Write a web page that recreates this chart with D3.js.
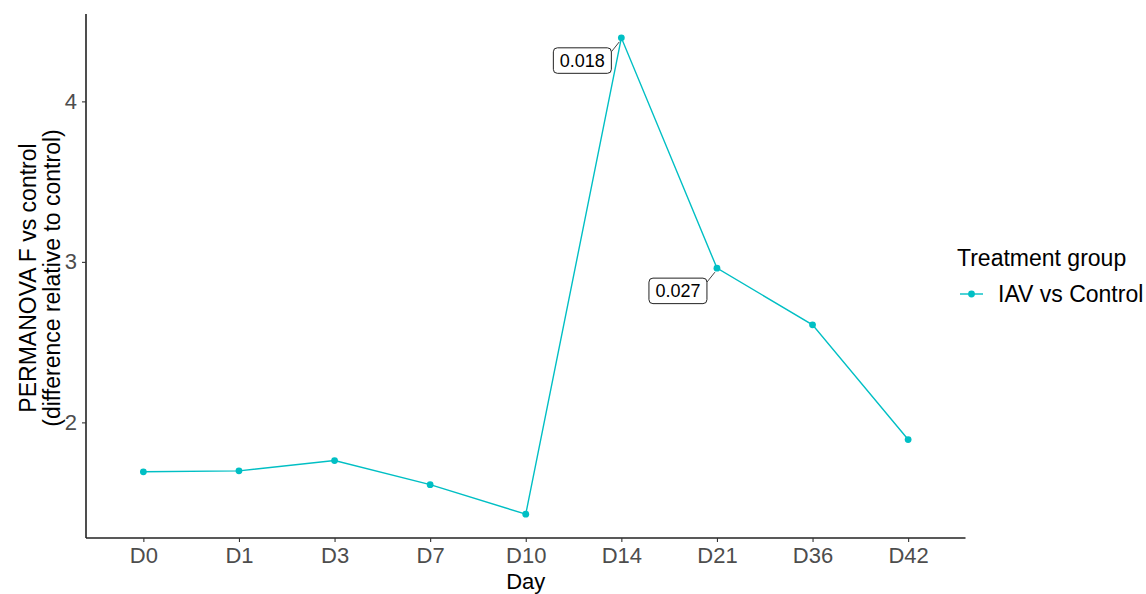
<!DOCTYPE html>
<html>
<head>
<meta charset="utf-8">
<script src="https://cdn.jsdelivr.net/npm/d3@7"></script>
<style>
  html, body { margin: 0; padding: 0; background: #ffffff; }
  svg { display: block; font-family: "Liberation Sans", Arial, Helvetica, sans-serif; }
</style>
</head>
<body>
<svg id="chart" width="1146" height="594"></svg>
<script>
const days = ["D0", "D1", "D3", "D7", "D10", "D14", "D21", "D36", "D42"];
const fValues = [1.692, 1.698, 1.762, 1.612, 1.428, 4.396, 2.961, 2.608, 1.893];
const pLabels = ["", "", "", "", "", "0.018", "0.027", "", ""];
const yTicks = [2, 3, 4];
const seriesName = "IAV vs Control";
const legendTitle = "Treatment group";
const color = "#00BFC4";

const svg = d3.select("#chart");
const panel = { left: 86, right: 965.5, top: 14, bottom: 538 };

// discrete x with ggplot-like 0.6 expansion
const x = d3.scalePoint().domain(days).range([panel.left, panel.right]).padding(0.6);
const yMin = d3.min(fValues), yMax = d3.max(fValues);
const pad = (yMax - yMin) * 0.05;
const y = d3.scaleLinear().domain([yMin - pad, yMax + pad]).range([panel.bottom, panel.top]);

// axes
const xAxis = svg.append("g").attr("transform", `translate(0,${panel.bottom})`)
  .call(d3.axisBottom(x).tickSize(4).tickPadding(3));
xAxis.select(".domain").attr("stroke", "#222").attr("stroke-width", 1.6)
  .attr("d", `M${panel.left},0H${panel.right}`);
xAxis.selectAll(".tick line").attr("stroke", "#333").attr("stroke-width", 1.1);
xAxis.selectAll(".tick text").attr("fill", "#4d4d4d").style("font-size", "22px").attr("dy", "0.8em");

const yAxis = svg.append("g").attr("transform", `translate(${panel.left},0)`)
  .call(d3.axisLeft(y).tickValues(yTicks).tickFormat(d3.format("d")).tickSize(4).tickPadding(5));
yAxis.select(".domain").attr("stroke", "#222").attr("stroke-width", 1.6)
  .attr("d", `M0,${panel.top}V${panel.bottom}`);
yAxis.selectAll(".tick line").attr("stroke", "#333").attr("stroke-width", 1.1);
yAxis.selectAll(".tick text").attr("fill", "#4d4d4d").style("font-size", "22px");

// axis titles
svg.append("text").attr("x", x("D10")).attr("y", 589)
  .attr("text-anchor", "middle").style("font-size", "22px").attr("fill", "#000").text("Day");
const yMid = (panel.top + panel.bottom) / 2;
const yt = svg.append("text").attr("transform", `translate(36,${yMid + 2}) rotate(-90)`)
  .attr("text-anchor", "middle").style("font-size", "23px").attr("fill", "#000");
yt.append("tspan").attr("x", 0).attr("y", 0).text("PERMANOVA F vs control");
yt.append("tspan").attr("x", 0).attr("y", 24).text("(difference relative to control)");

// line + points
const data = days.map((d, i) => ({ day: d, v: fValues[i], lab: pLabels[i] }));
svg.append("path").datum(data)
  .attr("fill", "none").attr("stroke", color).attr("stroke-width", 1.4)
  .attr("d", d3.line().x(d => x(d.day)).y(d => y(d.v)));
svg.selectAll("circle.pt").data(data).enter().append("circle")
  .attr("class", "pt").attr("cx", d => x(d.day)).attr("cy", d => y(d.v))
  .attr("r", 3.4).attr("fill", color);

// repelled labels
const labs = data.filter(d => d.lab !== "");
labs.forEach(d => {
  const px = x(d.day), py = y(d.v);
  const w = 58, h = 25.5;
  const bx = px - 10 - w, by = py + 10;
  svg.append("line").attr("x1", px - 2).attr("y1", py + 4).attr("x2", bx + w).attr("y2", by + 4)
    .attr("stroke", "#444").attr("stroke-width", 1);
  svg.append("rect").attr("x", bx).attr("y", by).attr("width", w).attr("height", h)
    .attr("rx", 4).attr("fill", "#fff").attr("stroke", "#222").attr("stroke-width", 1);
  svg.append("text").attr("x", bx + w / 2).attr("y", by + h / 2).attr("dy", "0.36em")
    .attr("text-anchor", "middle").style("font-size", "18px").attr("fill", "#000").text(d.lab);
});

// legend
const lg = svg.append("g").attr("transform", "translate(957,0)");
lg.append("text").attr("x", 0).attr("y", 266).style("font-size", "23px").attr("fill", "#000").text(legendTitle);
lg.append("line").attr("x1", 3).attr("x2", 26).attr("y1", 294).attr("y2", 294)
  .attr("stroke", color).attr("stroke-width", 1.4);
lg.append("circle").attr("cx", 14.5).attr("cy", 294).attr("r", 3.4).attr("fill", color);
lg.append("text").attr("x", 41).attr("y", 302).style("font-size", "23px").attr("fill", "#000").text(seriesName);
</script>
</body>
</html>
